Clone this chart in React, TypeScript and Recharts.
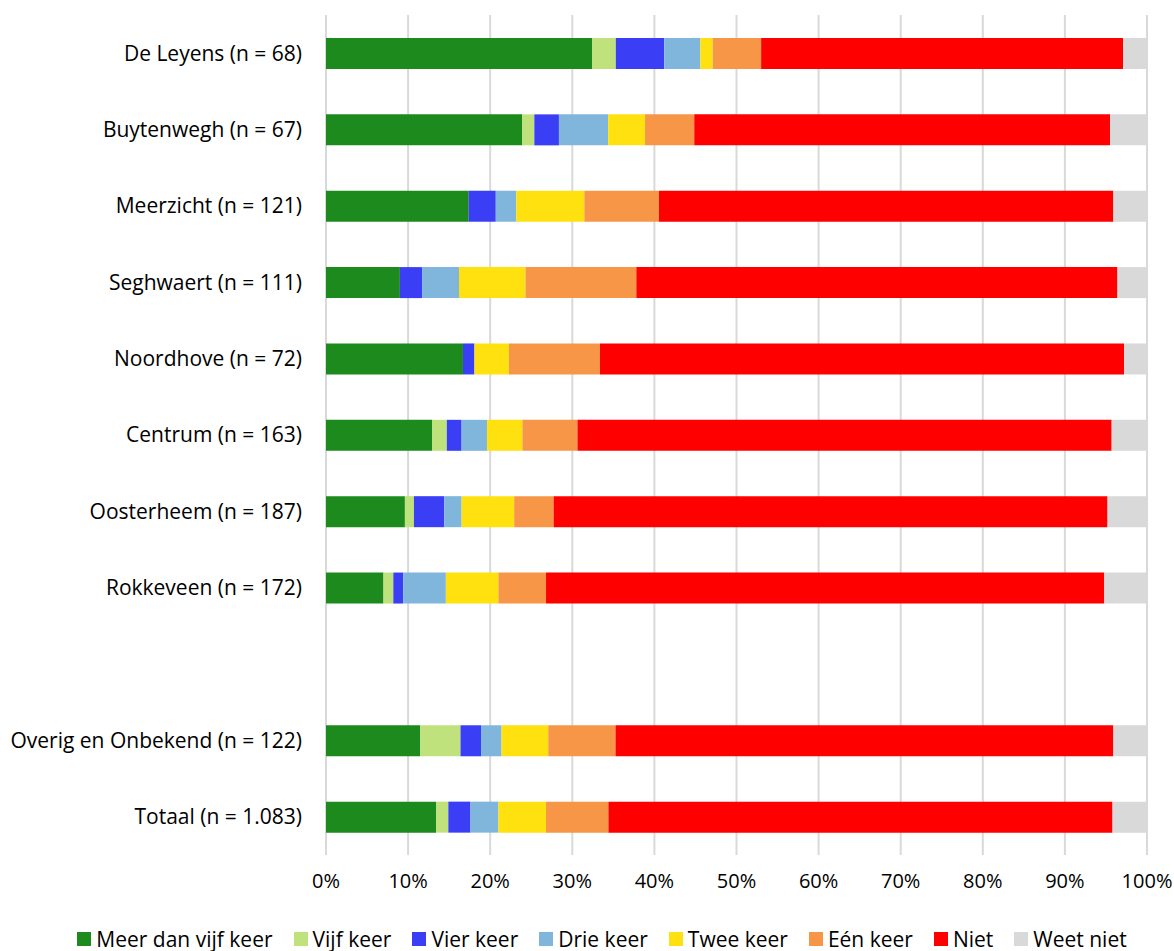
import { BarChart, Bar, XAxis, YAxis, CartesianGrid, Legend } from 'recharts';

// categories, top to bottom (empty row separates the totals)
const categories = [
  'De Leyens (n = 68)',
  'Buytenwegh (n = 67)',
  'Meerzicht (n = 121)',
  'Seghwaert (n = 111)',
  'Noordhove (n = 72)',
  'Centrum (n = 163)',
  'Oosterheem (n = 187)',
  'Rokkeveen (n = 172)',
  ' ',
  'Overig en Onbekend (n = 122)',
  'Totaal (n = 1.083)',
];

// percentages per answer
const meerDanVijf = [32.4, 23.9, 17.4, 9.0, 16.7, 12.9, 9.6, 7.0, null, 11.5, 13.4];
const vijfKeer = [2.9, 1.5, 0, 0, 0, 1.8, 1.1, 1.2, null, 4.9, 1.5];
const vierKeer = [5.9, 3.0, 3.3, 2.7, 1.4, 1.8, 3.7, 1.2, null, 2.5, 2.7];
const drieKeer = [4.4, 6.0, 2.5, 4.5, 0, 3.1, 2.1, 5.2, null, 2.5, 3.4];
const tweeKeer = [1.5, 4.5, 8.3, 8.1, 4.2, 4.3, 6.4, 6.4, null, 5.7, 5.8];
const eenKeer = [5.9, 6.0, 9.1, 13.5, 11.1, 6.7, 4.8, 5.8, null, 8.2, 7.6];
const niet = [44.1, 50.7, 55.4, 58.6, 63.9, 65.0, 67.4, 68.0, null, 60.7, 61.4];
const weetNiet = [2.9, 4.5, 4.1, 3.6, 2.8, 4.3, 4.8, 5.2, null, 4.1, 4.2];

const xTicks = [0, 0.1, 0.2, 0.3, 0.4, 0.5, 0.6, 0.7, 0.8, 0.9, 1];

const series = [
  { key: 'meer', label: 'Meer dan vijf keer', color: '#1c8a1c', values: meerDanVijf },
  { key: 'vijf', label: 'Vijf keer', color: '#c0e27c', values: vijfKeer },
  { key: 'vier', label: 'Vier keer', color: '#3a3ef5', values: vierKeer },
  { key: 'drie', label: 'Drie keer', color: '#80b6dc', values: drieKeer },
  { key: 'twee', label: 'Twee keer', color: '#ffe10f', values: tweeKeer },
  { key: 'een', label: 'Eén keer', color: '#f79646', values: eenKeer },
  { key: 'niet', label: 'Niet', color: '#ff0000', values: niet },
  { key: 'weet', label: 'Weet niet', color: '#d9d9d9', values: weetNiet },
];

const data = categories.map((name, i) => {
  const row: Record<string, string | number | null> = { name };
  series.forEach((s) => {
    row[s.key] = s.values[i];
  });
  return row;
});

const FONT = '"Open Sans", sans-serif';

function LegendContent() {
  return (
    <div
      style={{
        display: 'flex',
        justifyContent: 'center',
        alignItems: 'center',
        fontFamily: FONT,
        fontSize: 21,
        color: '#000',
        paddingTop: 20,
        paddingLeft: 78,
        whiteSpace: 'nowrap',
      }}
    >
      {series.map((s) => (
        <span key={s.key} style={{ display: 'inline-flex', alignItems: 'center', marginRight: 21 }}>
          <span style={{ width: 14, height: 14, background: s.color, display: 'inline-block', marginRight: 5 }} />
          {s.label}
        </span>
      ))}
    </div>
  );
}

export default function App() {
  return (
    <div style={{ position: 'absolute', left: 0, top: 0, width: 1174, height: 951, background: '#fff' }}>
      <BarChart
        width={1174}
        height={951}
        data={data}
        layout="vertical"
        stackOffset="expand"
        barSize={31}
        margin={{ top: 15, right: 27, bottom: 0, left: 0 }}
      >
        <CartesianGrid horizontal={false} stroke="#d9d9d9" strokeWidth={2} />
        <XAxis
          type="number"
          domain={[0, 1]}
          ticks={xTicks}
          tickFormatter={(v: number) => `${Math.round(v * 100)}%`}
          axisLine={false}
          tickLine={false}
          tickSize={0}
          tickMargin={19}
          height={50}
          interval={0}
          tick={{ fill: '#000', fontSize: 20, fontFamily: FONT }}
        />
        <YAxis
          type="category"
          dataKey="name"
          width={326}
          axisLine={false}
          tickLine={false}
          tickSize={0}
          tickMargin={24}
          interval={0}
          tick={{ fill: '#000', fontSize: 21, fontFamily: FONT }}
        />
        <Legend verticalAlign="bottom" height={46} content={<LegendContent />} />
        {series.map((s) => (
          <Bar key={s.key} dataKey={s.key} name={s.label} stackId="a" fill={s.color} isAnimationActive={false} />
        ))}
      </BarChart>
    </div>
  );
}
